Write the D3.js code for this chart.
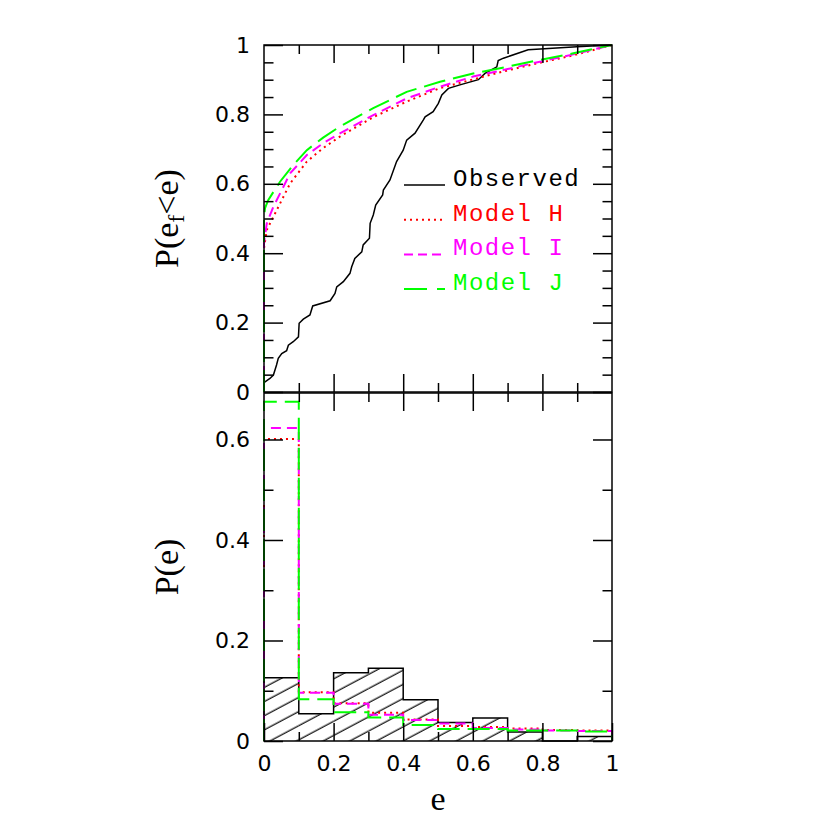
<!DOCTYPE html>
<html>
<head>
<meta charset="utf-8">
<script src="https://cdn.jsdelivr.net/npm/d3@7"></script>
<style>
  body { margin: 0; background: #fff; }
  svg { display: block; }
</style>
</head>
<body>
<svg></svg>
<script>
// observed cumulative distribution
const obsE = [0, 0, 0.017, 0.027, 0.032, 0.036, 0.041, 0.051, 0.065, 0.07, 0.084, 0.099, 0.101, 0.113, 0.132, 0.14,
  0.19, 0.204, 0.209, 0.228, 0.247, 0.252, 0.261, 0.281, 0.285, 0.303, 0.305, 0.314, 0.321, 0.341, 0.343,
  0.362, 0.381, 0.4, 0.41, 0.434, 0.458, 0.463, 0.486, 0.501, 0.511, 0.53, 0.563, 0.616, 0.635, 0.669,
  0.673, 0.688, 0.759, 0.899, 1];
const obsP = [0, 0.027, 0.039, 0.049, 0.065, 0.078, 0.097, 0.111, 0.119, 0.135, 0.145, 0.159, 0.198, 0.21, 0.222, 0.248,
  0.263, 0.284, 0.303, 0.318, 0.342, 0.361, 0.385, 0.404, 0.424, 0.443, 0.486, 0.51, 0.539, 0.568, 0.582,
  0.611, 0.664, 0.697, 0.726, 0.746, 0.784, 0.793, 0.808, 0.832, 0.856, 0.875, 0.885, 0.9, 0.918, 0.937,
  0.955, 0.962, 0.986, 0.995, 1];

// model cumulative distributions
const modelE = [0, 0, 0.008, 0.027, 0.075, 0.123, 0.17, 0.218, 0.314, 0.41, 0.506, 0.601, 0.697, 0.793, 0.889, 1];
const modelH_P = [0, 0.414, 0.467, 0.505, 0.601, 0.664, 0.703, 0.736, 0.792, 0.837, 0.876, 0.901, 0.926, 0.949, 0.97, 1];
const modelI_P = [0, 0.428, 0.486, 0.534, 0.63, 0.683, 0.717, 0.745, 0.798, 0.846, 0.88, 0.909, 0.93, 0.952, 0.973, 1];
const modelJ_E = [0, 0, 0.003, 0.012, 0.046, 0.085, 0.123, 0.17, 0.218, 0.314, 0.41, 0.506, 0.601, 0.697, 0.793, 0.889, 1];
const modelJ_P = [0, 0.505, 0.53, 0.553, 0.606, 0.655, 0.697, 0.733, 0.765, 0.818, 0.865, 0.894, 0.918, 0.937, 0.957, 0.976, 1];

// histograms, bins of width 0.1
const binStart = [0, 0.1, 0.2, 0.3, 0.4, 0.5, 0.6, 0.7, 0.8, 0.9];
const obsHist = [0.126, 0.054, 0.136, 0.145, 0.082, 0.037, 0.046, 0.018, 0, 0.009];
const histH = [0.601, 0.097, 0.075, 0.056, 0.043, 0.03, 0.028, 0.025, 0.022, 0.021];
const histI = [0.623, 0.096, 0.074, 0.052, 0.042, 0.035, 0.026, 0.023, 0.021, 0.02];
const histJ = [0.675, 0.083, 0.057, 0.047, 0.032, 0.024, 0.024, 0.021, 0.021, 0.019];

const legendNames = ["Observed", "Model H", "Model I", "Model J"];
const legendColors = ["#000000", "#ff0000", "#ff00ff", "#00ff00"];
const legendDash = [null, "2,4", "10,6", "22,8"];
const legendSampleDash = [null, "2,4", "9,5", "23,10"];

const width = 830, height = 830;
const svg = d3.select("svg").attr("width", width).attr("height", height);

const x = d3.scaleLinear().domain([0, 1]).range([264, 612]);
const yTop = d3.scaleLinear().domain([0, 1]).range([392, 45]);
const yBot = d3.scaleLinear().domain([0, 0.6925]).range([741, 393]);

// hatching for observed histogram
svg.append("defs").append("pattern")
    .attr("id", "hatch")
    .attr("patternUnits", "userSpaceOnUse")
    .attr("width", 12.5).attr("height", 12.5)
    .attr("patternTransform", "rotate(-28)")
  .append("line")
    .attr("x1", -1).attr("x2", 14).attr("y1", 6).attr("y2", 6)
    .attr("stroke", "#000").attr("stroke-width", 1.2);

const fmt = d => d3.format("~g")(d);
const lab = "DejaVu Sans";

function frame(y, yMajor, yMinor, showX) {
  const g = svg.append("g");
  const [y0, y1] = y.range();
  // left
  g.append("g").attr("transform", `translate(${x(0)},0)`)
    .call(d3.axisLeft(y).tickValues(yMajor).tickSize(-19).tickPadding(14).tickFormat(fmt));
  g.append("g").attr("transform", `translate(${x(0)},0)`)
    .call(d3.axisLeft(y).tickValues(yMinor).tickSize(-9.5).tickFormat(""));
  // right
  g.append("g").attr("transform", `translate(${x(1)},0)`)
    .call(d3.axisRight(y).tickValues(yMajor).tickSize(-19).tickFormat(""));
  g.append("g").attr("transform", `translate(${x(1)},0)`)
    .call(d3.axisRight(y).tickValues(yMinor).tickSize(-9.5).tickFormat(""));
  // top
  g.append("g").attr("transform", `translate(0,${y1})`)
    .call(d3.axisTop(x).tickValues([0.2, 0.4, 0.6, 0.8]).tickSize(-18).tickFormat(""));
  g.append("g").attr("transform", `translate(0,${y1})`)
    .call(d3.axisTop(x).tickValues([0.1, 0.3, 0.5, 0.7, 0.9]).tickSize(-9).tickFormat(""));
  // bottom
  g.append("g").attr("transform", `translate(0,${y0})`)
    .call(d3.axisBottom(x).tickValues(showX ? [0, 0.2, 0.4, 0.6, 0.8, 1] : [0.2, 0.4, 0.6, 0.8])
      .tickSize(-18).tickPadding(14).tickFormat(showX ? fmt : ""));
  g.append("g").attr("transform", `translate(0,${y0})`)
    .call(d3.axisBottom(x).tickValues([0.1, 0.3, 0.5, 0.7, 0.9]).tickSize(-9).tickFormat(""));

  g.selectAll(".domain").remove();
  g.selectAll(".tick line").attr("stroke", "#000").attr("stroke-width", 1.5);
  g.selectAll(".tick text").attr("font-family", lab).attr("font-size", 22).attr("fill", "#000");

  g.append("rect")
    .attr("x", x(0)).attr("y", y1)
    .attr("width", x(1) - x(0)).attr("height", y0 - y1)
    .attr("fill", "none").attr("stroke", "#000").attr("stroke-width", 1.5);
  return g;
}

// ---- top panel: cumulative ----
const cdfLine = (es, ps) => d3.line().x((d, i) => x(es[i])).y((d, i) => yTop(ps[i]))(ps);

const topG = svg.append("g");
topG.append("path").attr("d", cdfLine(obsE, obsP))
  .attr("fill", "none").attr("stroke", "#000").attr("stroke-width", 1.5);
topG.append("path").attr("d", cdfLine(modelE, modelH_P))
  .attr("fill", "none").attr("stroke", legendColors[1]).attr("stroke-width", 2).attr("stroke-dasharray", legendDash[1]);
topG.append("path").attr("d", cdfLine(modelE, modelI_P))
  .attr("fill", "none").attr("stroke", legendColors[2]).attr("stroke-width", 2).attr("stroke-dasharray", legendDash[2]);
topG.append("path").attr("d", cdfLine(modelJ_E, modelJ_P))
  .attr("fill", "none").attr("stroke", legendColors[3]).attr("stroke-width", 2).attr("stroke-dasharray", legendDash[3]);

// legend
const leg = svg.append("g");
legendNames.forEach((name, i) => {
  const ly = 177 + i * 34.7;
  leg.append("line")
    .attr("x1", 404).attr("x2", 445).attr("y1", ly + 8).attr("y2", ly + 8)
    .attr("stroke", legendColors[i]).attr("stroke-width", i === 0 ? 1.5 : 2)
    .attr("stroke-dasharray", legendSampleDash[i]);
  leg.append("text")
    .attr("x", 453).attr("y", ly + 9)
    .attr("font-family", "Liberation Mono").attr("font-size", 24).attr("letter-spacing", 1.5)
    .attr("fill", legendColors[i])
    .text(name);
});

frame(yTop, [0, 0.2, 0.4, 0.6, 0.8, 1], d3.range(1, 20).filter(i => i % 4 !== 0).map(i => i * 0.05), false);

// ---- bottom panel: histograms ----
const stepLine = d3.line().curve(d3.curveStepAfter).x(d => x(d[0])).y(d => yBot(d[1]));
const stepPts = vals => [[0, 0], ...binStart.map((b, i) => [b, vals[i]]), [1, vals[vals.length - 1]], [1, 0]];

const botG = svg.append("g");
botG.selectAll("rect.obs")
  .data(binStart)
  .join("rect")
    .attr("class", "obs")
    .attr("x", d => x(d))
    .attr("y", (d, i) => yBot(obsHist[i]))
    .attr("width", x(0.1) - x(0))
    .attr("height", (d, i) => yBot(0) - yBot(obsHist[i]))
    .attr("fill", "url(#hatch)");
botG.append("path").attr("d", stepLine(stepPts(obsHist)))
  .attr("fill", "none").attr("stroke", "#000").attr("stroke-width", 1.5);
[histH, histI, histJ].forEach((h, k) => {
  botG.append("path").attr("d", stepLine(stepPts(h)))
    .attr("fill", "none").attr("stroke", legendColors[k + 1]).attr("stroke-width", 2)
    .attr("stroke-dasharray", legendDash[k + 1]);
});

frame(yBot, [0, 0.2, 0.4, 0.6], [0.1, 0.3, 0.5], true);

// axis titles
svg.append("text")
  .attr("transform", `translate(178,${(yTop(0) + yTop(1)) / 2}) rotate(-90)`)
  .attr("text-anchor", "middle")
  .attr("font-family", "Liberation Serif").attr("font-size", 34)
  .call(t => {
    t.append("tspan").text("P(e");
    t.append("tspan").attr("baseline-shift", "-25%").attr("font-size", 24).text("f");
    t.append("tspan").text("<e)");
  });
svg.append("text")
  .attr("transform", `translate(178,${(yBot(0) + yBot(0.6925)) / 2}) rotate(-90)`)
  .attr("text-anchor", "middle")
  .attr("font-family", "Liberation Serif").attr("font-size", 34)
  .text("P(e)");
svg.append("text")
  .attr("x", x(0.5)).attr("y", 810)
  .attr("text-anchor", "middle")
  .attr("font-family", "Liberation Serif").attr("font-size", 34)
  .text("e");
</script>
</body>
</html>
